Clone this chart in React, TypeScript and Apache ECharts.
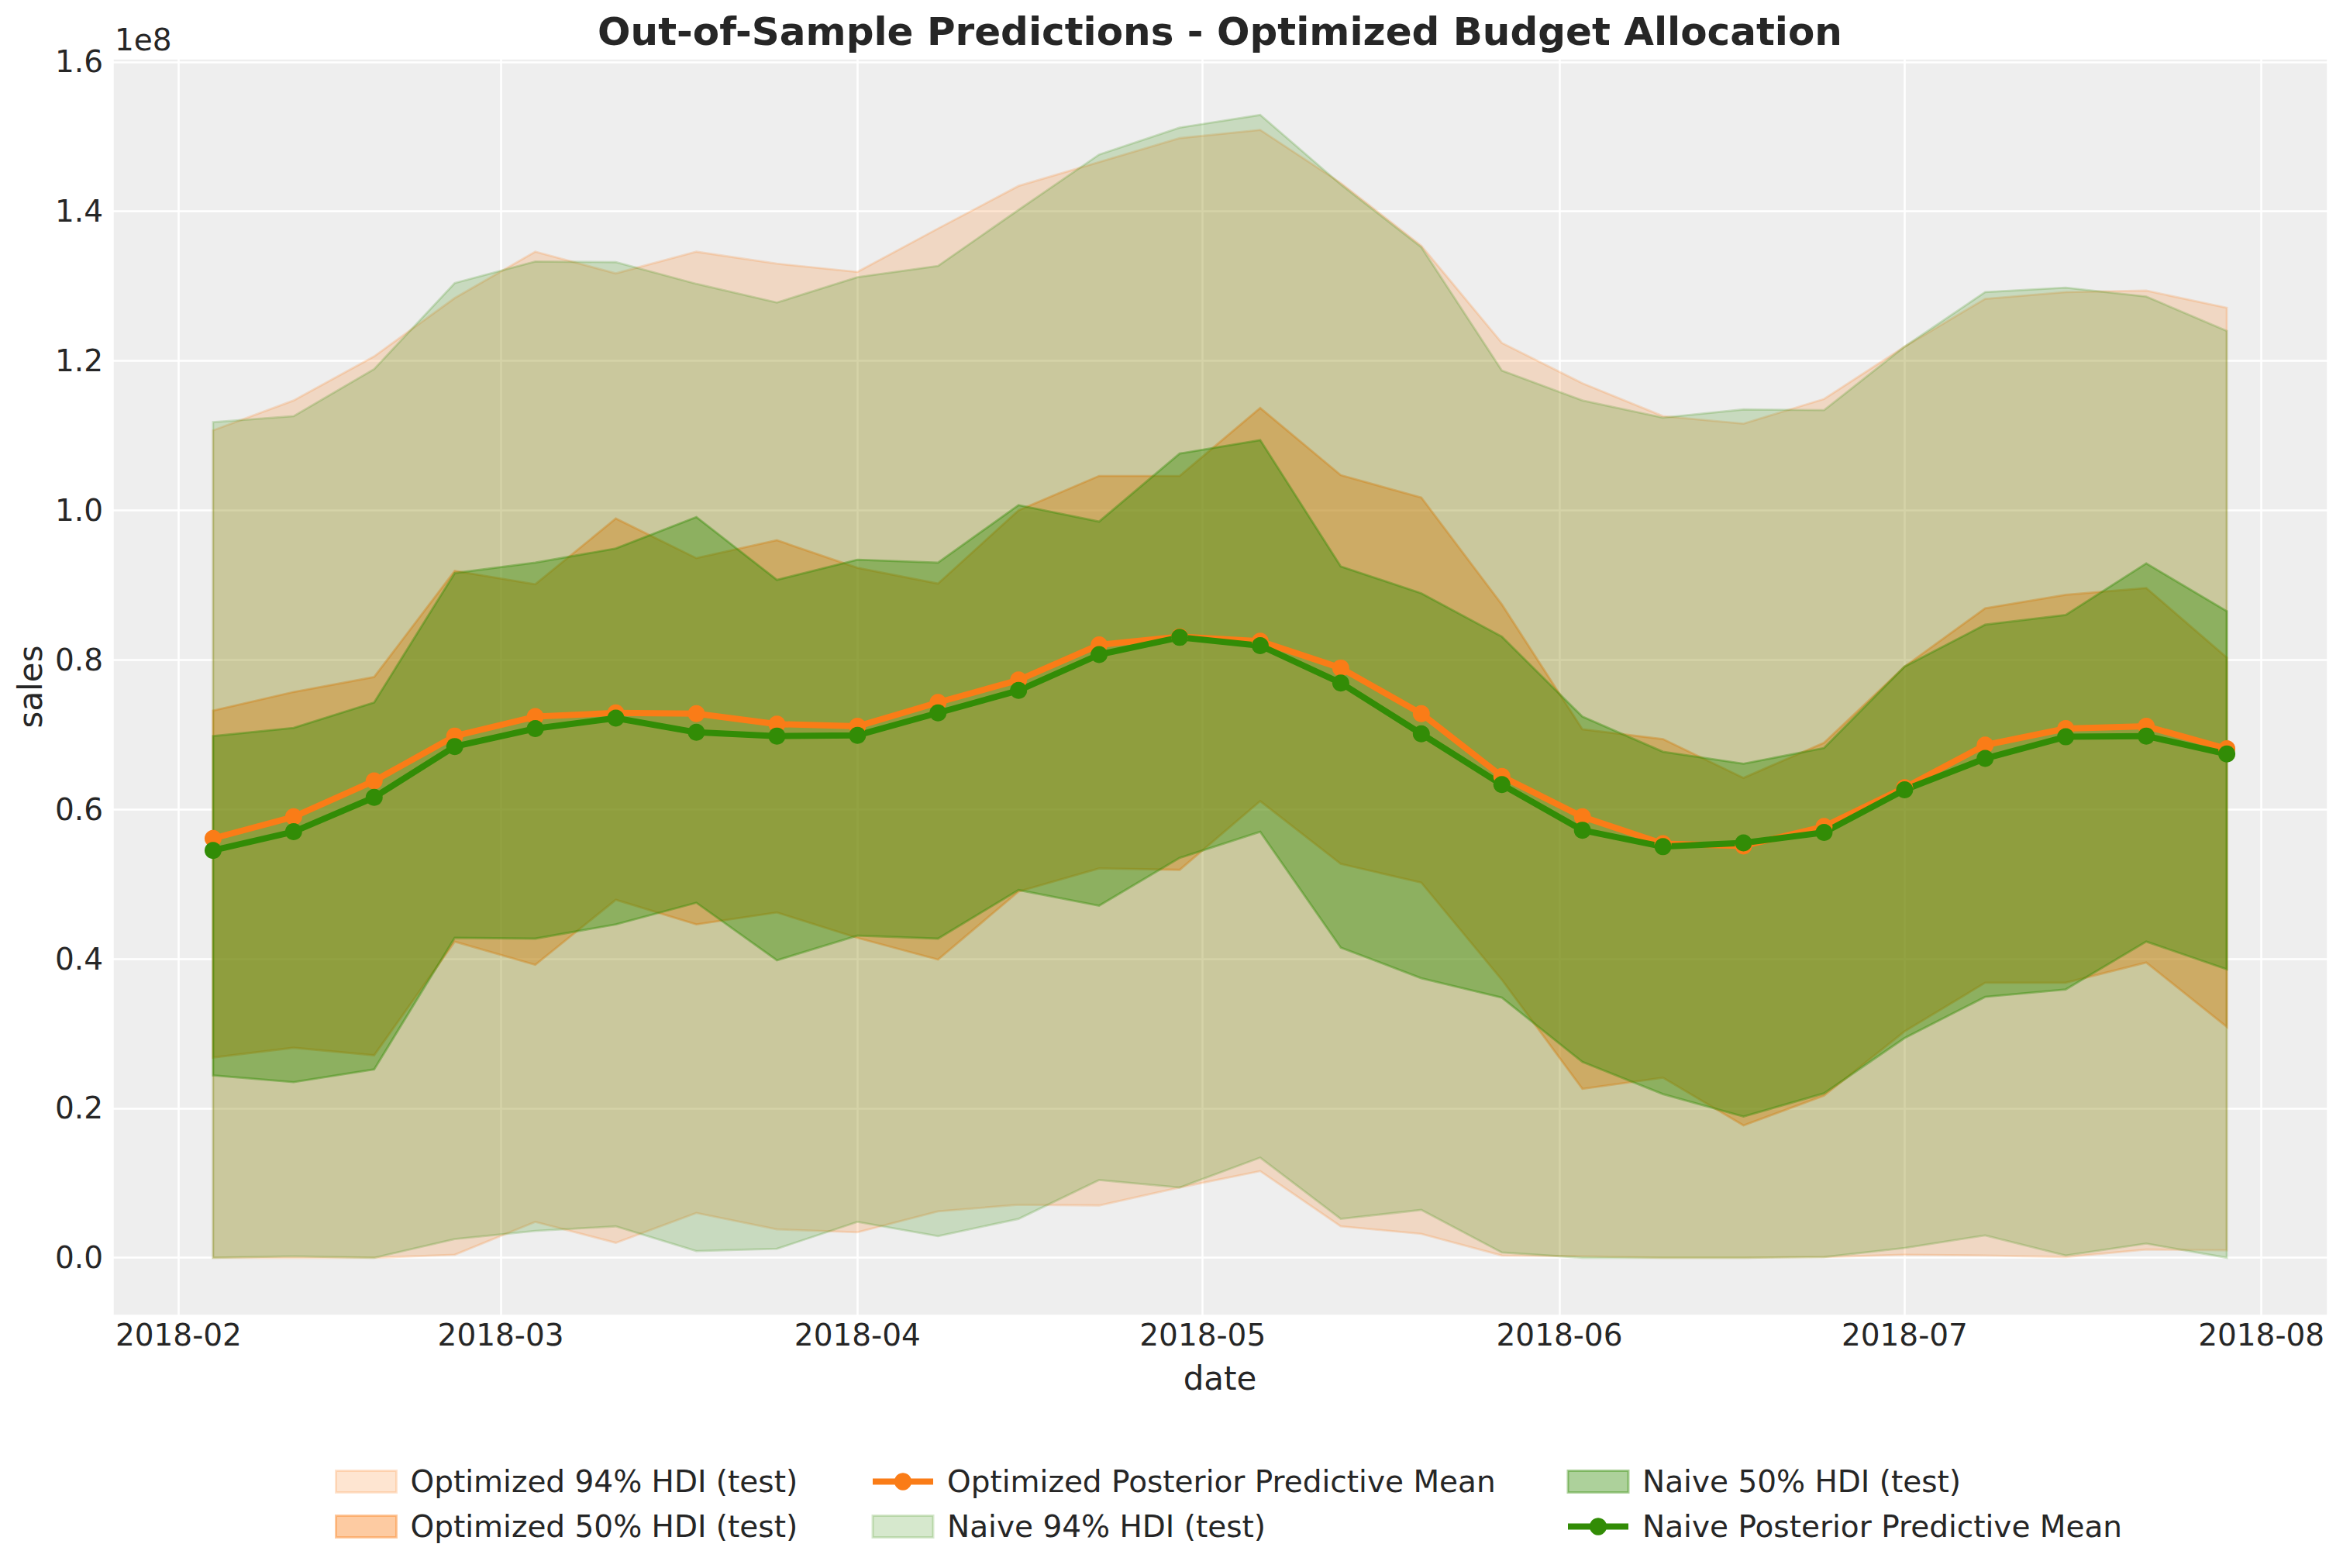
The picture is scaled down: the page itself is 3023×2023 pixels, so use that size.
import { useEffect, useRef } from "react";
import * as echarts from "echarts";

// weekly test dates
const dates = [
  "2018-02-04", "2018-02-11", "2018-02-18", "2018-02-25", "2018-03-04", "2018-03-11",
  "2018-03-18", "2018-03-25", "2018-04-01", "2018-04-08", "2018-04-15", "2018-04-22",
  "2018-04-29", "2018-05-06", "2018-05-13", "2018-05-20", "2018-05-27", "2018-06-03",
  "2018-06-10", "2018-06-17", "2018-06-24", "2018-07-01", "2018-07-08", "2018-07-15",
  "2018-07-22", "2018-07-29"
];

// all values in units of 1e8
const optMean = [0.561, 0.590, 0.638, 0.698, 0.724, 0.729, 0.728, 0.714, 0.711, 0.743, 0.773, 0.820, 0.831, 0.825, 0.789, 0.728, 0.644, 0.590, 0.554, 0.551, 0.577, 0.629, 0.686, 0.708, 0.711, 0.681];
const naiveMean = [0.545, 0.570, 0.616, 0.684, 0.708, 0.722, 0.703, 0.698, 0.699, 0.729, 0.759, 0.807, 0.830, 0.819, 0.769, 0.701, 0.633, 0.572, 0.550, 0.555, 0.569, 0.626, 0.668, 0.697, 0.698, 0.674];

const opt94Upper = [1.107, 1.147, 1.206, 1.284, 1.346, 1.317, 1.346, 1.330, 1.319, 1.377, 1.434, 1.466, 1.498, 1.509, 1.438, 1.354, 1.224, 1.170, 1.126, 1.116, 1.149, 1.219, 1.283, 1.292, 1.294, 1.271];
const opt94Lower = [0, 0, 0, 0.004, 0.048, 0.020, 0.060, 0.038, 0.034, 0.062, 0.071, 0.070, 0.094, 0.116, 0.042, 0.032, 0.003, 0.002, 0, 0, 0.001, 0.004, 0.003, 0.001, 0.011, 0.010];
const opt50Upper = [0.732, 0.757, 0.777, 0.919, 0.901, 0.989, 0.936, 0.960, 0.923, 0.902, 1.000, 1.046, 1.046, 1.137, 1.047, 1.017, 0.874, 0.707, 0.694, 0.642, 0.689, 0.791, 0.869, 0.887, 0.896, 0.803];
const opt50Lower = [0.268, 0.281, 0.271, 0.423, 0.392, 0.479, 0.446, 0.462, 0.428, 0.399, 0.490, 0.521, 0.519, 0.611, 0.527, 0.502, 0.372, 0.226, 0.241, 0.177, 0.217, 0.303, 0.368, 0.368, 0.395, 0.309];

const naive94Upper = [1.118, 1.126, 1.189, 1.304, 1.333, 1.332, 1.303, 1.278, 1.312, 1.327, 1.402, 1.476, 1.512, 1.529, 1.436, 1.352, 1.187, 1.147, 1.124, 1.135, 1.134, 1.219, 1.292, 1.298, 1.286, 1.240];
const naive94Lower = [0, 0.002, 0, 0.025, 0.036, 0.042, 0.009, 0.012, 0.048, 0.029, 0.052, 0.104, 0.094, 0.134, 0.052, 0.064, 0.007, 0, 0, 0, 0.001, 0.013, 0.030, 0.003, 0.019, 0];
const naive50Upper = [0.698, 0.709, 0.743, 0.916, 0.930, 0.949, 0.991, 0.907, 0.934, 0.930, 1.007, 0.985, 1.076, 1.094, 0.925, 0.889, 0.831, 0.724, 0.677, 0.661, 0.682, 0.791, 0.847, 0.860, 0.929, 0.865];
const naive50Lower = [0.244, 0.235, 0.252, 0.428, 0.427, 0.446, 0.475, 0.398, 0.431, 0.427, 0.492, 0.471, 0.535, 0.570, 0.415, 0.374, 0.348, 0.262, 0.219, 0.189, 0.220, 0.294, 0.349, 0.359, 0.423, 0.386];

const SCALE = 1e8;
const ORANGE = "#fa7c17";
const GREEN = "#328c06";
const ORANGE_RGB = "250,124,23";
const GREEN_RGB = "50,140,6";
const FONT = "DejaVu Sans";
const TEXT = "#262626";

const ts = (d: string) => Date.parse(d + "T00:00:00Z");

function band(name: string, lower: number[], upper: number[], rgb: string, alpha: number) {
  const rows = dates.map((d, i) => [ts(d), lower[i] * SCALE, upper[i] * SCALE]);
  return {
    name,
    type: "custom",
    z: 2,
    silent: true,
    encode: { x: 0, y: [1, 2] },
    data: rows,
    renderItem: (params: any, api: any) => {
      if (params.dataIndex !== 0) return null;
      const top = rows.map(r => api.coord([r[0], r[2]]));
      const bottom = rows.map(r => api.coord([r[0], r[1]])).reverse();
      return {
        type: "polygon",
        shape: { points: top.concat(bottom) },
        style: { fill: `rgba(${rgb},${alpha})`, stroke: `rgba(${rgb},${alpha})`, lineWidth: 2.8 }
      };
    }
  };
}

function meanLine(name: string, values: number[], color: string) {
  return {
    name,
    type: "line",
    z: 3,
    silent: true,
    data: dates.map((d, i) => [ts(d), values[i] * SCALE]),
    symbol: "circle",
    symbolSize: 22,
    showSymbol: true,
    lineStyle: { width: 8, color },
    itemStyle: { color }
  };
}

function patch(name: string, rgb: string, alpha: number) {
  return {
    name,
    icon: "rect",
    itemStyle: { color: `rgba(${rgb},${alpha})`, borderColor: `rgba(${rgb},${alpha})`, borderWidth: 3 }
  };
}

function lineKey(name: string, color: string) {
  return {
    name,
    itemStyle: { color },
    lineStyle: { color, width: 8 }
  };
}

export default function App() {
  const chartRef = useRef<HTMLDivElement>(null);

  useEffect(() => {
    if (!chartRef.current) return;
    document.body.style.margin = "0";
    const chart = echarts.init(chartRef.current, null, { renderer: "svg" });

    const legendBase = {
      orient: "vertical",
      top: 1884,
      itemWidth: 78,
      itemHeight: 28,
      itemGap: 13,
      selectedMode: false,
      textStyle: { fontSize: 39, fontFamily: FONT, color: TEXT, lineHeight: 45, padding: [0, 0, 0, 13] }
    };

    const option = {
      animation: false,
      useUTC: true,
      backgroundColor: "#ffffff",
      grid: {
        left: 145,
        right: 20,
        top: 75,
        bottom: 326,
        show: true,
        backgroundColor: "#eeeeee",
        borderWidth: 0
      },
      graphic: [
        {
          type: "text",
          x: 1574,
          y: 41,
          style: {
            text: "Out-of-Sample Predictions - Optimized Budget Allocation",
            fontSize: 50,
            fontWeight: "bold",
            fontFamily: FONT,
            fill: TEXT,
            align: "center",
            verticalAlign: "middle"
          }
        },
        {
          type: "text",
          x: 148,
          y: 51,
          style: { text: "1e8", fontSize: 39, fontFamily: FONT, fill: TEXT, align: "left", verticalAlign: "middle" }
        }
      ],
      legend: [
        {
          ...legendBase,
          left: 427,
          data: [patch("Optimized 94% HDI (test)", ORANGE_RGB, 0.2), patch("Optimized 50% HDI (test)", ORANGE_RGB, 0.4)]
        },
        {
          ...legendBase,
          left: 1117,
          data: [lineKey("Optimized Posterior Predictive Mean", ORANGE), patch("Naive 94% HDI (test)", GREEN_RGB, 0.2)]
        },
        {
          ...legendBase,
          left: 2014,
          data: [patch("Naive 50% HDI (test)", GREEN_RGB, 0.4), lineKey("Naive Posterior Predictive Mean", GREEN)]
        }
      ],
      xAxis: {
        type: "time",
        min: Date.UTC(2018, 0, 26, 6),
        max: Date.UTC(2018, 7, 6, 18),
        splitNumber: 7,
        axisLine: { show: false },
        axisTick: { show: false },
        splitLine: { show: true, lineStyle: { color: "#ffffff", width: 2.5 } },
        axisLabel: {
          fontSize: 39,
          fontFamily: FONT,
          color: TEXT,
          margin: 6,
          showMinLabel: false,
          showMaxLabel: false,
          hideOverlap: false,
          formatter: (value: number) => {
            const d = new Date(value);
            if (d.getUTCDate() !== 1 || d.getUTCHours() !== 0) return "";
            return `${d.getUTCFullYear()}-${String(d.getUTCMonth() + 1).padStart(2, "0")}`;
          }
        },
        name: "date",
        nameLocation: "middle",
        nameGap: 60,
        nameTextStyle: { fontSize: 42, fontFamily: FONT, color: TEXT }
      },
      yAxis: {
        type: "value",
        min: -0.077 * SCALE,
        max: 1.605 * SCALE,
        splitNumber: 8,
        minInterval: 0.2 * SCALE,
        maxInterval: 0.2 * SCALE,
        axisLine: { show: false },
        axisTick: { show: false },
        splitLine: { show: true, lineStyle: { color: "#ffffff", width: 2.5 } },
        axisLabel: {
          fontSize: 39,
          fontFamily: FONT,
          color: TEXT,
          margin: 12,
          showMinLabel: false,
          showMaxLabel: false,
          formatter: (v: number) => (v / SCALE).toFixed(1)
        },
        name: "sales",
        nameLocation: "middle",
        nameGap: 82,
        nameTextStyle: { fontSize: 42, fontFamily: FONT, color: TEXT }
      },
      series: [
        band("Optimized 94% HDI (test)", opt94Lower, opt94Upper, ORANGE_RGB, 0.2),
        band("Optimized 50% HDI (test)", opt50Lower, opt50Upper, ORANGE_RGB, 0.4),
        band("Naive 94% HDI (test)", naive94Lower, naive94Upper, GREEN_RGB, 0.2),
        band("Naive 50% HDI (test)", naive50Lower, naive50Upper, GREEN_RGB, 0.4),
        meanLine("Optimized Posterior Predictive Mean", optMean, ORANGE),
        meanLine("Naive Posterior Predictive Mean", naiveMean, GREEN)
      ]
    };

    chart.setOption(option as any);

    return () => {
      chart.dispose();
    };
  }, []);

  return <div ref={chartRef} style={{ position: "absolute", left: 0, top: 0, width: "3023px", height: "2023px" }} />;
}
